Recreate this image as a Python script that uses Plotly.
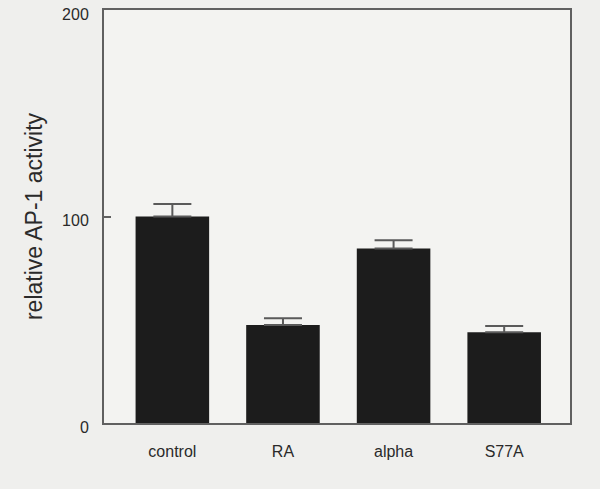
import plotly.graph_objects as go

categories = ["control", "RA", "alpha", "S77A"]
values = [100, 47.5, 84.5, 44]
errors = [6, 3.2, 4, 3]
y_ticks = [0, 100, 200]

fig = go.Figure()
fig.add_trace(go.Bar(
    x=list(range(len(categories))),
    y=values,
    width=0.665,
    marker=dict(color="#1c1c1c", line=dict(width=0)),
    error_y=dict(type="data", array=errors, arrayminus=[0] * len(errors),
                 symmetric=False, color="#5a5a5a", thickness=2, width=19),
))

font_family = "Arial, Liberation Sans, Helvetica, sans-serif"
fig.update_layout(
    width=600, height=489,
    margin=dict(l=104, r=30, t=10, b=66, autoexpand=False),
    paper_bgcolor="#efefed",
    plot_bgcolor="#f3f3f1",
    showlegend=False,
    font=dict(family=font_family, color="#2a2a2a", size=16),
    xaxis=dict(
        range=[-0.618, 3.595], automargin=False,
        tickmode="array", tickvals=list(range(len(categories))), ticktext=categories,
        showgrid=False, zeroline=False, ticks="",
        showline=True, linecolor="#606060", linewidth=2, mirror=True,
        tickfont=dict(size=16), ticklabelstandoff=13,
    ),
    yaxis=dict(
        range=[0, 200], automargin=False,
        tickmode="array", tickvals=y_ticks,
        showgrid=False, zeroline=False,
        ticks="inside", ticklen=7, tickwidth=2, tickcolor="#606060",
        showline=True, linecolor="#606060", linewidth=2, mirror=True,
        tickfont=dict(size=16), ticklabelstandoff=10, ticklabelshift=4,
        title=dict(text="relative AP-1 activity", font=dict(size=23), standoff=13),
    ),
)
fig.write_html("out.html", config={"displayModeBar": False},
               post_script="document.body.style.margin='0';document.body.style.overflow='hidden';")
